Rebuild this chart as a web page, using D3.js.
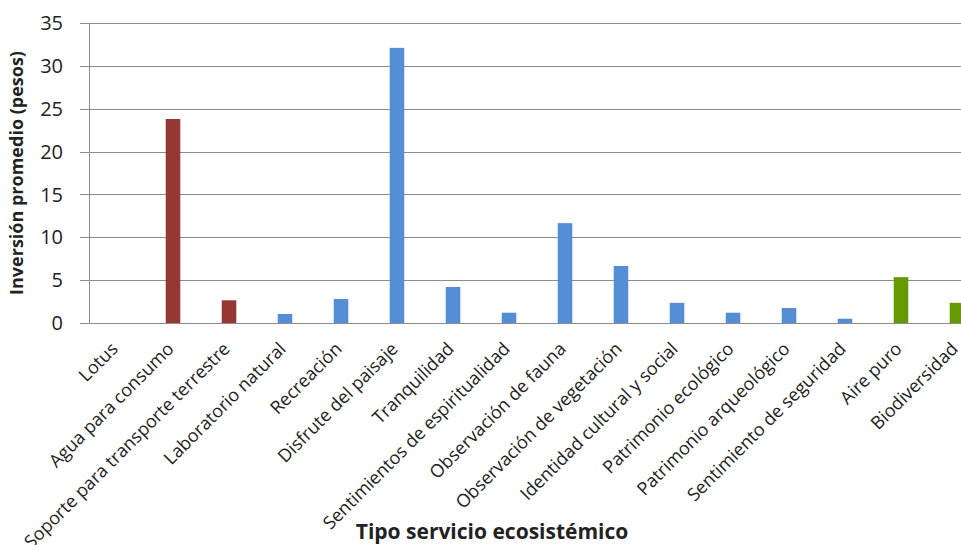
<!DOCTYPE html>
<html><head><meta charset="utf-8">
<script src="https://cdn.jsdelivr.net/npm/d3@7"></script>
<style>body{margin:0;background:#fff}svg{display:block}</style>
</head><body><svg id="c" width="961" height="545"></svg>
<script>
const categories = ["Lotus","Agua para consumo","Soporte para transporte terrestre","Laboratorio natural","Recreación","Disfrute del paisaje","Tranquilidad","Sentimientos de espiritualidad","Observación de fauna","Observación de vegetación","Identidad cultural y social","Patrimonio ecológico","Patrimonio arqueológico","Sentimiento de seguridad","Aire puro","Biodiversidad"];
const values = [0, 23.8, 2.65, 1.05, 2.8, 32.1, 4.2, 1.2, 11.65, 6.65, 2.35, 1.2, 1.75, 0.5, 5.35, 2.35];
const groups = ["aprovisionamiento","aprovisionamiento","aprovisionamiento","cultural","cultural","cultural","cultural","cultural","cultural","cultural","cultural","cultural","cultural","cultural","regulacion","regulacion"];
const yTicks = [0,5,10,15,20,25,30,35];
const yTitle = "Inversión promedio (pesos)";
const xTitle = "Tipo servicio ecosistémico";

const colorMap = {aprovisionamiento:"#953735", cultural:"#558ed5", regulacion:"#669900"};
const font = "'Open Sans', Lato, sans-serif";
const svg = d3.select("#c");
const mLeft = 89, mTop = 23, mBottom = 323, step = 56;
const x = d3.scaleBand().domain(categories).range([mLeft, mLeft + step*categories.length]).paddingInner(0.74).paddingOuter(0.37);
const y = d3.scaleLinear().domain([0,35]).range([mBottom, mTop]);

// gridlines
svg.append("g").selectAll("line").data(yTicks).join("line")
  .attr("x1", mLeft-9).attr("x2", mLeft + step*categories.length)
  .attr("y1", d=>Math.round(y(d))+0.5).attr("y2", d=>Math.round(y(d))+0.5)
  .attr("stroke", "#8c8c8c").attr("stroke-width", 1);
// y axis line
svg.append("line").attr("x1", mLeft+0.5).attr("x2", mLeft+0.5).attr("y1", mTop).attr("y2", mBottom+1)
  .attr("stroke", "#8c8c8c");
// y tick labels
svg.append("g").selectAll("text").data(yTicks).join("text")
  .attr("x", 63).attr("y", d=>y(d)).attr("dy","0.36em").attr("text-anchor","end")
  .attr("font-family", font).attr("font-size", 20).attr("fill","#222").text(d=>d);

// bars
svg.append("g").selectAll("rect").data(categories).join("rect")
  .attr("x", d=>x(d)).attr("width", x.bandwidth())
  .attr("y", (d,i)=>y(values[i])).attr("height", (d,i)=>y(0)-y(values[i]))
  .attr("fill", (d,i)=>colorMap[groups[i]]);

// category labels
svg.append("g").selectAll("text").data(categories).join("text")
  .attr("transform", d=>`translate(${x(d)+x.bandwidth()/2+2},${mBottom+27}) rotate(-45)`)
  .attr("text-anchor","end").attr("font-family", font).attr("font-size", 18).attr("fill","#222")
  .text(d=>d);

// y title
svg.append("text").attr("transform", `translate(23,${(mTop+mBottom)/2}) rotate(-90)`)
  .attr("text-anchor","middle").attr("font-family", font).attr("font-weight","bold").attr("font-size",18)
  .attr("fill","#222").text(yTitle);
// x title
svg.append("text").attr("x", 492).attr("y", 539).attr("text-anchor","middle")
  .attr("font-family", font).attr("font-weight","bold").attr("font-size",21).attr("fill","#222").text(xTitle);
</script></body></html>
